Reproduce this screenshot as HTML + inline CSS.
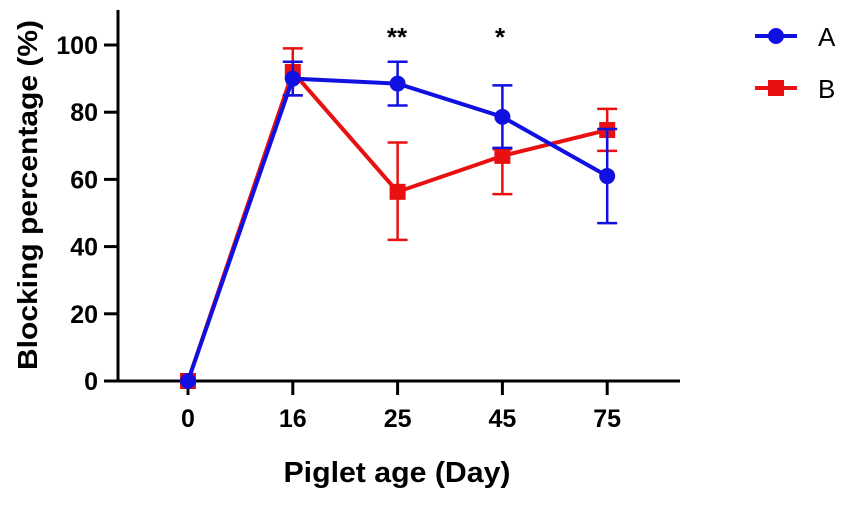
<!DOCTYPE html>
<html><head><meta charset="utf-8"><style>
body{margin:0;background:#fff}
svg text{font-family:"Liberation Sans",Arial,sans-serif;font-weight:bold;fill:#000}
</style></head><body>
<svg id="chart" width="851" height="501" viewBox="0 0 851 501" xmlns="http://www.w3.org/2000/svg">
<g id="axes"></g>
<g id="series"></g>
<text x="0" y="0" font-size="28" text-anchor="middle" textLength="350" lengthAdjust="spacingAndGlyphs" transform="translate(37,195) rotate(-90)">Blocking percentage (%)</text>
<text x="397" y="482" font-size="29" text-anchor="middle" textLength="227" lengthAdjust="spacingAndGlyphs">Piglet age (Day)</text>
<text x="397" y="46" font-size="26" text-anchor="middle">**</text>
<text x="500" y="46" font-size="26" text-anchor="middle">*</text>
<g>
<g>
<line x1="755" y1="36" x2="797" y2="36" stroke="#1010e0" stroke-width="4"/><circle cx="776" cy="36" r="8" fill="#1010e0"/>
<text x="818" y="46" font-size="26" style="font-weight:normal">A</text></g>
<g>
<line x1="755" y1="88" x2="797" y2="88" stroke="#e81010" stroke-width="4"/><rect x="768" y="80" width="16" height="16" fill="#e81010"/>
<text x="818" y="98" font-size="26" style="font-weight:normal">B</text></g>
</g>
</svg>
<script>
const categories=["0","16","25","45","75"];
const yTicks=[0,20,40,60,80,100];
const seriesA=[0,90,88.5,78.6,61];
const seriesAUpper=[0,95,95,88,75];
const seriesALower=[0,85,82,69.4,47];
const seriesB=[0,92,56.3,67,74.7];
const seriesBUpper=[0,99,71,69,81];
const seriesBLower=[0,85,42,55.6,68.5];
const NS="http://www.w3.org/2000/svg";
const x=i=>188+i*104.8;
const y=v=>381-v*3.36;
function mk(tag,attrs,parent){const e=document.createElementNS(NS,tag);for(const k in attrs)e.setAttribute(k,attrs[k]);parent.appendChild(e);return e;}
const axes=document.getElementById('axes');
let l=mk('line',{x1:118,y1:10,x2:118,y2:382.5,stroke:'#000','stroke-width':3},axes);


l=mk('line',{x1:116.5,y1:381,x2:680,y2:381,stroke:'#000','stroke-width':3},axes);


yTicks.forEach(t=>{
 const tk=mk('line',{x1:104,y1:y(t),x2:118,y2:y(t),stroke:'#000','stroke-width':3},axes);
 
 
 const tx=mk('text',{x:98,y:y(t)+9,'font-size':25,'text-anchor':'end'},axes);tx.textContent=t;
 
 
});
categories.forEach((c,i)=>{
 const tk=mk('line',{x1:x(i),y1:381,x2:x(i),y2:395,stroke:'#000','stroke-width':3},axes);
 
 
 const tx=mk('text',{x:x(i),y:427,'font-size':25,'text-anchor':'middle'},axes);tx.textContent=c;
 
 
});
const sg=document.getElementById('series');
function draw(vals,up,lo,color,shape,name){
 const g=mk('g',{},sg);
 
 
 vals.forEach((v,i)=>{
  if(up[i]===lo[i])return;
  const e=mk('path',{d:`M${x(i)},${y(up[i])}V${y(lo[i])}M${x(i)-10},${y(up[i])}h20M${x(i)-10},${y(lo[i])}h20`,stroke:color,'stroke-width':2.5,fill:'none'},g);
  
  
 });
 const p=mk('polyline',{points:vals.map((v,i)=>x(i)+','+y(v)).join(' '),stroke:color,'stroke-width':4,fill:'none'},g);
 
 
 vals.forEach((v,i)=>{
  let m;
  if(shape==='c')m=mk('circle',{cx:x(i),cy:y(v),r:8,fill:color},g);
  else m=mk('rect',{x:x(i)-8,y:y(v)-8,width:16,height:16,fill:color},g);
  
  
 });
}
draw(seriesB,seriesBUpper,seriesBLower,'#e81010','s','b');
draw(seriesA,seriesAUpper,seriesALower,'#1010e0','c','a');
</script>
</body></html>
